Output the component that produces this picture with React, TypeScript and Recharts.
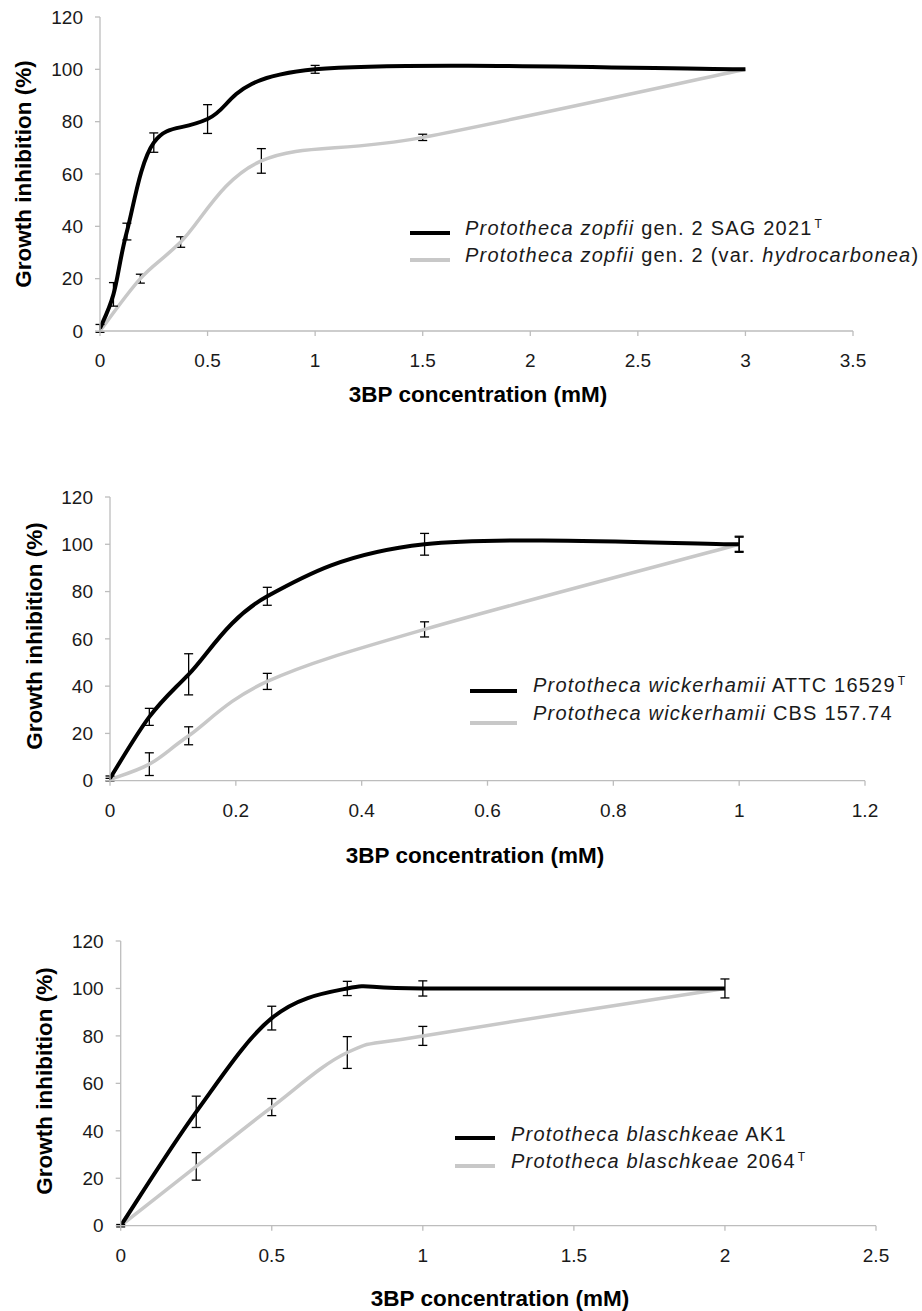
import { LineChart, Line, XAxis, YAxis, ErrorBar, Legend } from "recharts";

const FONT = '"Liberation Sans", Arial, Helvetica, sans-serif';
const BLACK = "#000000";
const GREY = "#c8c8c8";
const AXIS = "#bdbdbd";
const TEXT = "#1a1a1a";

const yTicks = [0, 20, 40, 60, 80, 100, 120];

// P. zopfii gen. 2
const zopfiiTicks = [0, 0.5, 1, 1.5, 2, 2.5, 3, 3.5];
const sagX = [0, 0.0625, 0.125, 0.25, 0.5, 1, 3];
const sagY = [1, 14, 38, 72, 81, 100, 100];
const sagErr = [1.5, 4.5, 3.2, 3.7, 5.5, 1.5, 0];
const hydroX = [0, 0.1875, 0.375, 0.75, 1.5, 3];
const hydroY = [0, 20, 34, 65, 74, 100];
const hydroErr = [0, 1.7, 2, 4.7, 1.2, 0];

// P. wickerhamii
const wickTicks = [0, 0.2, 0.4, 0.6, 0.8, 1, 1.2];
const attcX = [0, 0.0625, 0.125, 0.25, 0.5, 1];
const attcY = [1, 27, 45, 78, 100, 100];
const attcErr = [1, 3.6, 8.7, 3.8, 4.6, 3.4];
const cbsX = [0, 0.0625, 0.125, 0.25, 0.5, 1];
const cbsY = [0.5, 7, 19, 42, 64, 100];
const cbsErr = [0.5, 4.8, 3.8, 3.4, 3.2, 3];

// P. blaschkeae
const blaTicks = [0, 0.5, 1, 1.5, 2, 2.5];
const ak1X = [0, 0.25, 0.5, 0.75, 1, 2];
const ak1Y = [0, 48, 87.5, 100, 100, 100];
const ak1Err = [0.5, 6.6, 5, 3, 3.2, 4];
const b2064X = [0, 0.25, 0.5, 0.75, 1, 2];
const b2064Y = [0, 25, 50, 73, 80, 100];
const b2064Err = [0, 5.8, 3.6, 6.7, 4, 0];

const rows = (xs: number[], ys: number[], es: number[]) =>
  xs.map((x, i) => ({ x, y: ys[i], err: es[i] }));

// excel-style smoothed line (uniform catmull-rom)
const excelCurve = (context: any) => {
  let pts: number[][] = [];
  return {
    areaStart() {},
    areaEnd() {},
    lineStart() {
      pts = [];
    },
    point(x: number, y: number) {
      pts.push([+x, +y]);
    },
    lineEnd() {
      if (!pts.length) return;
      context.moveTo(pts[0][0], pts[0][1]);
      for (let i = 0; i < pts.length - 1; i++) {
        const p0 = pts[i - 1] || pts[i];
        const p1 = pts[i];
        const p2 = pts[i + 1];
        const p3 = pts[i + 2] || p2;
        context.bezierCurveTo(
          p1[0] + (p2[0] - p0[0]) / 6,
          p1[1] + (p2[1] - p0[1]) / 6,
          p2[0] - (p3[0] - p1[0]) / 6,
          p2[1] - (p3[1] - p1[1]) / 6,
          p2[0],
          p2[1]
        );
      }
    },
  };
};

type Seg = { t: string; i?: boolean; sup?: boolean };

interface LegendCfg {
  left: number;
  top: number;
  gap: number;
  sampleW: number;
  textLeft: number;
  sampleTops: number[];
  items: Seg[][];
}

interface PanelProps {
  top: number;
  height: number;
  margin: { top: number; right: number; bottom: number; left: number };
  xMax: number;
  xTicks: number[];
  black: { x: number; y: number; err: number }[];
  grey: { x: number; y: number; err: number }[];
  legend: LegendCfg;
  xTitle: [number, number];
  yTitle: [number, number];
}

const LegendBox = ({ cfg }: { cfg: LegendCfg }) => (
  <div style={{ position: "relative", width: 470, height: 60, fontFamily: FONT, color: TEXT }}>
    {cfg.items.map((segs, r) => (
      <div key={r} style={{ position: "absolute", top: r * cfg.gap, left: 0, height: 27 }}>
        <span
          style={{
            position: "absolute",
            left: 0,
            top: cfg.sampleTops[r] - 2,
            width: cfg.sampleW,
            height: 4,
            background: r === 0 ? BLACK : GREY,
          }}
        />
        <span
          style={{
            position: "absolute",
            left: cfg.textLeft,
            top: 0,
            whiteSpace: "nowrap",
            fontSize: 20,
            lineHeight: "27px",
            letterSpacing: 1.2,
          }}
        >
          {segs.map((s, k) =>
            s.sup ? (
              <span
                key={k}
                style={{ fontSize: 12, verticalAlign: "7px", lineHeight: 0, marginLeft: 2, letterSpacing: 0 }}
              >
                {s.t}
              </span>
            ) : (
              <span key={k} style={{ fontStyle: s.i ? "italic" : "normal" }}>
                {s.t}
              </span>
            )
          )}
        </span>
      </div>
    ))}
  </div>
);

function Panel(p: PanelProps) {
  return (
    <div style={{ position: "absolute", left: 0, top: p.top }}>
      <LineChart width={922} height={p.height} margin={p.margin}>
        <XAxis
          type="number"
          dataKey="x"
          domain={[0, p.xMax]}
          ticks={p.xTicks}
          interval={0}
          allowDataOverflow
          height={60}
          tickSize={5}
          tickMargin={18}
          axisLine={{ stroke: AXIS, strokeWidth: 1.3 }}
          tickLine={{ stroke: AXIS, strokeWidth: 1.3 }}
          tick={{ fill: TEXT, fontSize: 19, fontFamily: FONT }}
        />
        <YAxis
          type="number"
          domain={[0, 120]}
          ticks={yTicks}
          interval={0}
          allowDataOverflow
          width={60}
          tickSize={5}
          tickMargin={12}
          axisLine={{ stroke: AXIS, strokeWidth: 1.3 }}
          tickLine={{ stroke: AXIS, strokeWidth: 1.3 }}
          tick={{ fill: TEXT, fontSize: 19, fontFamily: FONT }}
        />
        <Line
          data={p.grey}
          dataKey="y"
          type={excelCurve as any}
          stroke={GREY}
          strokeWidth={3.5}
          dot={false}
          activeDot={false}
          isAnimationActive={false}
        >
          <ErrorBar dataKey="err" direction="y" width={4.5} stroke={BLACK} strokeWidth={1.3} />
        </Line>
        <Line
          data={p.black}
          dataKey="y"
          type={excelCurve as any}
          stroke={BLACK}
          strokeWidth={4}
          dot={false}
          activeDot={false}
          isAnimationActive={false}
        >
          <ErrorBar dataKey="err" direction="y" width={4.5} stroke={BLACK} strokeWidth={1.3} />
        </Line>
        <Legend
          layout="vertical"
          align="center"
          verticalAlign="middle"
          wrapperStyle={{ left: p.legend.left, top: p.legend.top, width: 470, height: 60 }}
          content={() => <LegendBox cfg={p.legend} />}
        />
        <text
          x={p.xTitle[0]}
          y={p.xTitle[1]}
          textAnchor="middle"
          dominantBaseline="central"
          fontFamily={FONT}
          fontWeight="bold"
          fontSize={22.5}
          fill={BLACK}
        >
          3BP concentration (mM)
        </text>
        <text
          x={p.yTitle[0]}
          y={p.yTitle[1]}
          transform={`rotate(-90 ${p.yTitle[0]} ${p.yTitle[1]})`}
          textAnchor="middle"
          dominantBaseline="central"
          fontFamily={FONT}
          fontWeight="bold"
          fontSize={22.5}
          fill={BLACK}
        >
          Growth inhibition (%)
        </text>
      </LineChart>
    </div>
  );
}

export default function App() {
  return (
    <div style={{ position: "absolute", left: 0, top: 0, width: 922, height: 1311, background: "#ffffff" }}>
      <Panel
        top={0}
        height={420}
        margin={{ top: 17, right: 69, bottom: 29, left: 40 }}
        xMax={3.5}
        xTicks={zopfiiTicks}
        black={rows(sagX, sagY, sagErr)}
        grey={rows(hydroX, hydroY, hydroErr)}
        xTitle={[478, 394]}
        yTitle={[23, 174]}
        legend={{
          left: 410,
          top: 214.6,
          gap: 27.7,
          sampleW: 40,
          textLeft: 55,
          sampleTops: [18.1, 17.7],
          items: [
            [{ t: "Prototheca zopfii", i: true }, { t: " gen. 2 SAG 2021" }, { t: "T", sup: true }],
            [{ t: "Prototheca zopfii", i: true }, { t: " gen. 2 (var. " }, { t: "hydrocarbonea", i: true }, { t: ")" }],
          ],
        }}
      />
      <Panel
        top={440}
        height={440}
        margin={{ top: 57, right: 57, bottom: 39.3, left: 50 }}
        xMax={1.2}
        xTicks={wickTicks}
        black={rows(attcX, attcY, attcErr)}
        grey={rows(cbsX, cbsY, cbsErr)}
        xTitle={[475, 415.7]}
        yTitle={[34, 196]}
        legend={{
          left: 470,
          top: 232.3,
          gap: 27.3,
          sampleW: 47,
          textLeft: 63,
          sampleTops: [18.4, 23],
          items: [
            [{ t: "Prototheca wickerhamii", i: true }, { t: " ATTC 16529" }, { t: "T", sup: true }],
            [{ t: "Prototheca wickerhamii", i: true }, { t: " CBS 157.74" }],
          ],
        }}
      />
      <Panel
        top={880}
        height={431}
        margin={{ top: 61, right: 46, bottom: 25.3, left: 60.7 }}
        xMax={2.5}
        xTicks={blaTicks}
        black={rows(ak1X, ak1Y, ak1Err)}
        grey={rows(b2064X, b2064Y, b2064Err)}
        xTitle={[500, 418.7]}
        yTitle={[44, 201]}
        legend={{
          left: 455,
          top: 241.3,
          gap: 26.6,
          sampleW: 40,
          textLeft: 56,
          sampleTops: [17, 18],
          items: [
            [{ t: "Prototheca blaschkeae", i: true }, { t: " AK1" }],
            [{ t: "Prototheca blaschkeae", i: true }, { t: " 2064" }, { t: "T", sup: true }],
          ],
        }}
      />
    </div>
  );
}
